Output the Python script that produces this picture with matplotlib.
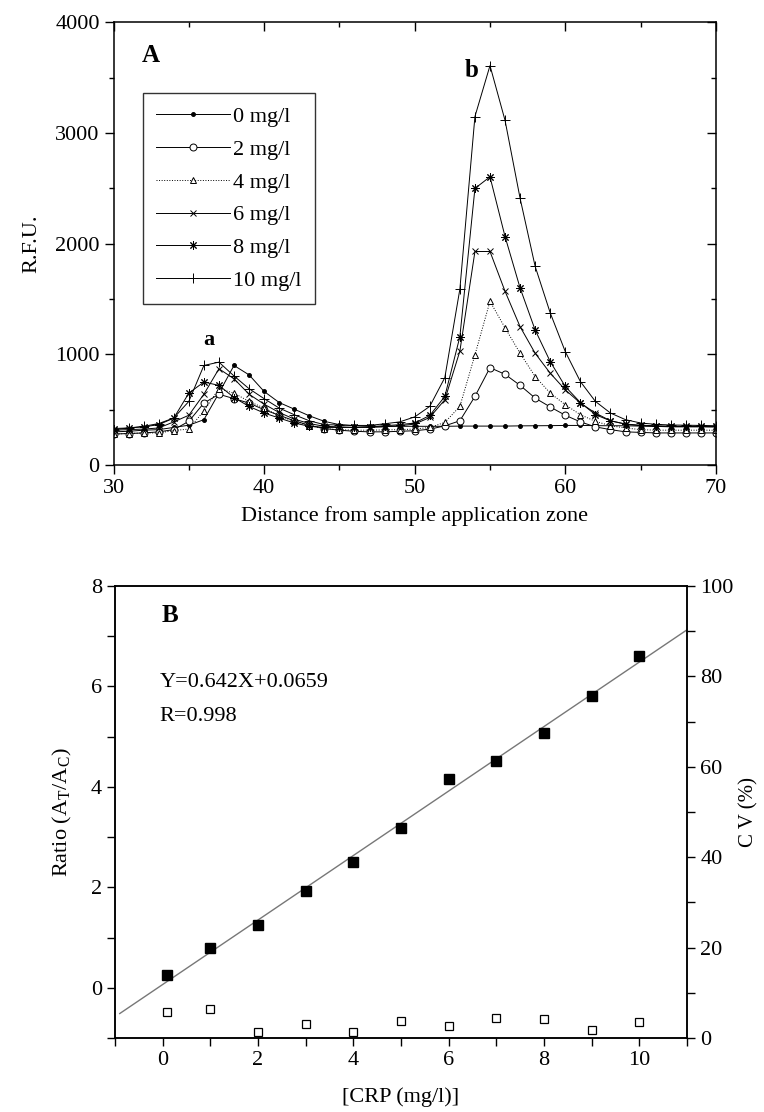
import numpy as np
import matplotlib.pyplot as plt
from matplotlib.ticker import MultipleLocator, FixedLocator

plt.rcParams['font.family'] = ['Liberation Serif', 'DejaVu Serif']
plt.rcParams['mathtext.fontset'] = 'custom'
plt.rcParams['mathtext.rm'] = 'Liberation Serif'
plt.rcParams['axes.linewidth'] = 1.1

# ---- panel A data: fluorescence profiles ----
distance = np.arange(30, 71)
labels_a = ["0 mg/l", "2 mg/l", "4 mg/l", "6 mg/l", "8 mg/l", "10 mg/l"]

rfu_0 = [300, 305, 315, 320, 340, 360, 410, 650, 900, 815, 665, 565, 505, 445, 395, 365, 355, 350, 350, 350,
         350, 350, 350, 352, 352, 352, 352, 354, 355, 356, 358, 358, 356, 355, 355, 352, 350, 350, 348, 348, 345]
rfu_2 = [280, 285, 290, 300, 320, 395, 560, 640, 600, 560, 500, 450, 400, 360, 330, 315, 305, 300, 300, 305,
         310, 324, 354, 400, 620, 880, 820, 720, 605, 525, 450, 390, 345, 320, 300, 295, 290, 290, 290, 290, 290]
rfu_4 = [280, 285, 290, 290, 312, 325, 490, 690, 650, 575, 515, 445, 395, 355, 330, 320, 315, 315, 318, 320,
         325, 340, 385, 530, 995, 1480, 1240, 1010, 800, 650, 545, 455, 395, 355, 335, 320, 315, 315, 315, 315, 315]
rfu_6 = [315, 320, 325, 335, 390, 450, 640, 870, 780, 640, 550, 475, 415, 375, 350, 345, 340, 340, 345, 355,
         370, 430, 590, 1030, 1930, 1930, 1570, 1250, 1010, 830, 680, 560, 470, 400, 370, 355, 350, 345, 345, 345, 345]
rfu_8 = [330, 335, 345, 365, 424, 650, 750, 720, 610, 530, 470, 425, 380, 350, 340, 340, 340, 345, 355, 365,
         380, 448, 620, 1160, 2500, 2605, 2065, 1600, 1220, 935, 710, 565, 455, 400, 370, 360, 355, 350, 350, 350, 350]
rfu_10 = [320, 335, 350, 375, 425, 575, 900, 930, 805, 690, 600, 515, 455, 400, 365, 362, 358, 358, 373, 390,
          435, 530, 790, 1590, 3150, 3610, 3115, 2410, 1795, 1375, 1025, 755, 575, 470, 410, 380, 368, 362, 360, 358, 355]

# ---- panel B data: calibration ----
crp = [0.1, 1, 2, 3, 4, 5, 6, 7, 8, 9, 10]
ratio = [0.25, 0.80, 1.26, 1.93, 2.51, 3.19, 4.16, 4.52, 5.08, 5.81, 6.60]
cv = [5.8, 6.5, 1.4, 3.0, 1.4, 3.7, 2.7, 4.5, 4.2, 1.7, 3.6]
slope, intercept = 0.642, 0.0659

FS = 16

fig = plt.figure(figsize=(7.64, 11.12), dpi=100)

# ================= panel A =================
ax = fig.add_axes([0.1486, 0.5818, 0.7884, 0.398])
series = [rfu_0, rfu_2, rfu_4, rfu_6, rfu_8, rfu_10]
styles = [
    dict(marker='o', ms=2.8, mfc='black', ls='-'),
    dict(marker='o', ms=5, mfc='white', ls='-'),
    dict(marker='^', ms=5, mfc='white', ls=':'),
    dict(marker='x', ms=5, ls='-'),
    dict(marker=(8, 2, 0), ms=6, ls='-'),
    dict(marker='+', ms=6.5, ls='-'),
]
for y, lab, st in zip(series, labels_a, styles):
    ax.plot(distance, y, color='black', lw=0.7, mec='black', mew=0.7, label=lab, **st)

ax.set_xlim(30, 70)
ax.set_ylim(0, 4000)
ax.xaxis.set_major_locator(FixedLocator(np.arange(30, 71, 10)))
ax.xaxis.set_minor_locator(MultipleLocator(5))
ax.yaxis.set_major_locator(MultipleLocator(1000))
ax.yaxis.set_minor_locator(MultipleLocator(500))
ax.tick_params(axis='both', which='major', direction='out', length=6.5, width=1, labelsize=FS)
ax.tick_params(axis='both', which='minor', direction='out', length=3.5, width=1)
ax.tick_params(axis='both', which='both', top=True, right=True)
# top / right ticks point inwards
for t in ax.xaxis.get_major_ticks() + ax.xaxis.get_minor_ticks():
    t.tick2line.set_marker(3)
for t in ax.yaxis.get_major_ticks() + ax.yaxis.get_minor_ticks():
    t.tick2line.set_marker(0)
ax.set_ylabel("R.F.U.", fontsize=FS, labelpad=10)
ax.set_xlabel("Distance from sample application zone", fontsize=FS, labelpad=6)

leg = ax.legend(loc='upper left', bbox_to_anchor=(0.049, 0.84), fontsize=FS, frameon=True,
                fancybox=False, handlelength=3.3, handletextpad=0.15, labelspacing=0.55,
                borderpad=0.6, borderaxespad=0)
leg.get_frame().set_edgecolor('black')
leg.get_frame().set_linewidth(1.0)

ax.text(32.5, 3700, "A", fontsize=18, fontweight='bold', ha='center', va='center')
ax.text(36.3, 1130, "a", fontsize=16, fontweight='bold', ha='center', va='center')
ax.text(53.8, 3570, "b", fontsize=18, fontweight='bold', ha='center', va='center')

# ================= panel B =================
bx = fig.add_axes([0.1505, 0.0665, 0.7487, 0.4065])
line_x = np.array([-0.9, 11])
bx.plot(line_x, slope * line_x + intercept, color='#777777', lw=1.0)
bx.plot(crp, ratio, ls='none', marker='s', ms=7.5, mfc='black', mec='black')
bx.set_xlim(-1, 11)
bx.set_ylim(-1, 8)
bx.xaxis.set_major_locator(MultipleLocator(2))
bx.xaxis.set_minor_locator(MultipleLocator(1))
bx.yaxis.set_major_locator(MultipleLocator(2))
bx.yaxis.set_minor_locator(MultipleLocator(1))
bx.tick_params(axis='both', which='major', direction='out', length=6, width=1, labelsize=FS)
bx.tick_params(axis='both', which='minor', direction='out', length=6, width=1)
bx.set_xlabel("[CRP (mg/l)]", fontsize=FS, labelpad=12)
bx.set_ylabel(r"Ratio (A$_\mathregular{T}$/A$_\mathregular{C}$)", fontsize=FS, labelpad=12)

bx.text(-0.02, 7.42, "B", fontsize=18, fontweight='bold', ha='left', va='center')
bx.text(-0.07, 6.08, "Y=0.642X+0.0659", fontsize=FS, ha='left', va='center')
bx.text(-0.07, 5.4, "R=0.998", fontsize=FS, ha='left', va='center')

cx = bx.twinx()
cx.plot(crp, cv, ls='none', marker='s', ms=6, mfc='white', mec='black', mew=0.9)
cx.set_ylim(0, 100)
cx.yaxis.set_major_locator(MultipleLocator(20))
cx.yaxis.set_minor_locator(MultipleLocator(10))
cx.tick_params(axis='y', which='both', direction='out', length=6, width=1, labelsize=FS)
cx.set_ylabel("C V (%)", fontsize=15, labelpad=4)

fig.savefig("out.png", dpi=100)
